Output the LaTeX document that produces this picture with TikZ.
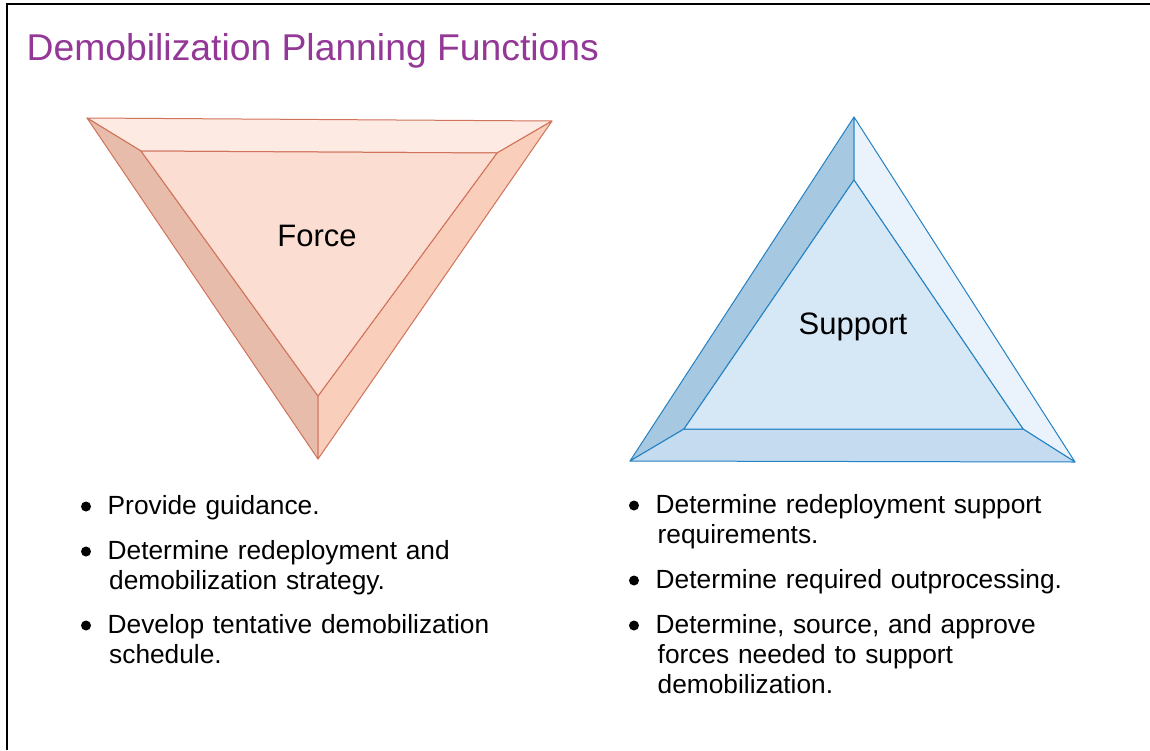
\documentclass[tikz,border=0pt]{standalone}
\usepackage{fontspec}
\setmainfont{Liberation Sans}
\usetikzlibrary{positioning}
\definecolor{titlepurple}{HTML}{933896}
\definecolor{forceline}{HTML}{D0735B}
\definecolor{forcetop}{HTML}{FDEAE3}
\definecolor{forceleft}{HTML}{E8BCAA}
\definecolor{forceright}{HTML}{F9CEBB}
\definecolor{forcemid}{HTML}{FCDDD1}
\definecolor{supportline}{HTML}{2382C4}
\definecolor{supportleft}{HTML}{A6C8E1}
\definecolor{supportright}{HTML}{EAF2FB}
\definecolor{supportbottom}{HTML}{C5DCF0}
\definecolor{supportmid}{HTML}{D6E7F6}

\begin{document}
\begin{tikzpicture}[x=1pt, y=-1pt,
        item/.style={anchor=base west, align=left, inner sep=0pt, text width=440pt,
            font=\fontsize{26.3}{30}\selectfont},
        facelabel/.style={anchor=base, inner sep=0pt,
            font=\fontsize{31}{36}\selectfont},
        forceface/.style={draw=forceline, line width=1pt, line join=round},
        supportface/.style={draw=supportline, line width=1pt, line join=round}]
    \useasboundingbox (0,0) rectangle (1150,750);
    \draw [line width=2pt] (7,750) -- (7,4.3) -- (1150,4.3);

    \node (title) [anchor=base west, inner sep=0pt, text=titlepurple,
        font=\fontsize{37.3}{44}\selectfont] at (26.5,60) {Demobilization Planning Functions};

    % Force triangle
    \coordinate (fA) at (87,118);
    \coordinate (fB) at (552,121);
    \coordinate (fC) at (318,459);
    \coordinate (fa) at (141,151);
    \coordinate (fb) at (497,153);
    \coordinate (fc) at (318,396);
    \filldraw [forceface, fill=forcetop] (fA) -- (fB) -- (fb) -- (fa) -- cycle;
    \filldraw [forceface, fill=forceleft] (fA) -- (fa) -- (fc) -- (fC) -- cycle;
    \filldraw [forceface, fill=forceright] (fB) -- (fC) -- (fc) -- (fb) -- cycle;
    \filldraw [forceface, fill=forcemid] (fa) -- (fb) -- (fc) -- cycle;
    \node (force) [facelabel] at (317,246) {Force};

    % Support triangle
    \coordinate (sA) at (854,117);
    \coordinate (sB) at (1075,462);
    \coordinate (sC) at (630,461);
    \coordinate (sa) at (854,180);
    \coordinate (sb) at (1023,429);
    \coordinate (sc) at (684,429);
    \filldraw [supportface, fill=supportleft] (sA) -- (sa) -- (sc) -- (sC) -- cycle;
    \filldraw [supportface, fill=supportright] (sA) -- (sB) -- (sb) -- (sa) -- cycle;
    \filldraw [supportface, fill=supportbottom] (sC) -- (sc) -- (sb) -- (sB) -- cycle;
    \filldraw [supportface, fill=supportmid] (sa) -- (sb) -- (sc) -- cycle;
    \node (support) [facelabel] at (853,334) {Support};

    % bullet lists
    \node (f1) [item] at (107.5,514) {Provide guidance.};
    \node (f2) [item] at (107.5,559) {Determine redeployment and\\\hspace{1.5pt}demobilization strategy.};
    \node (f3) [item] at (107.5,633) {Develop tentative demobilization\\\hspace{1.5pt}schedule.};
    \node (s1) [item] at (655.5,513) {Determine redeployment support\\\hspace{2pt}requirements.};
    \node (s2) [item] at (655.5,588) {Determine required outprocessing.};
    \node (s3) [item] at (655.5,633) {Determine, source, and approve\\\hspace{2pt}forces needed to support\\\hspace{2pt}demobilization.};
    \foreach \n in {f1,f2,f3,s1,s2,s3}
        \fill ([xshift=-21.5pt,yshift=7.5pt]\n.base west) circle (5pt);
\end{tikzpicture}
\end{document}
